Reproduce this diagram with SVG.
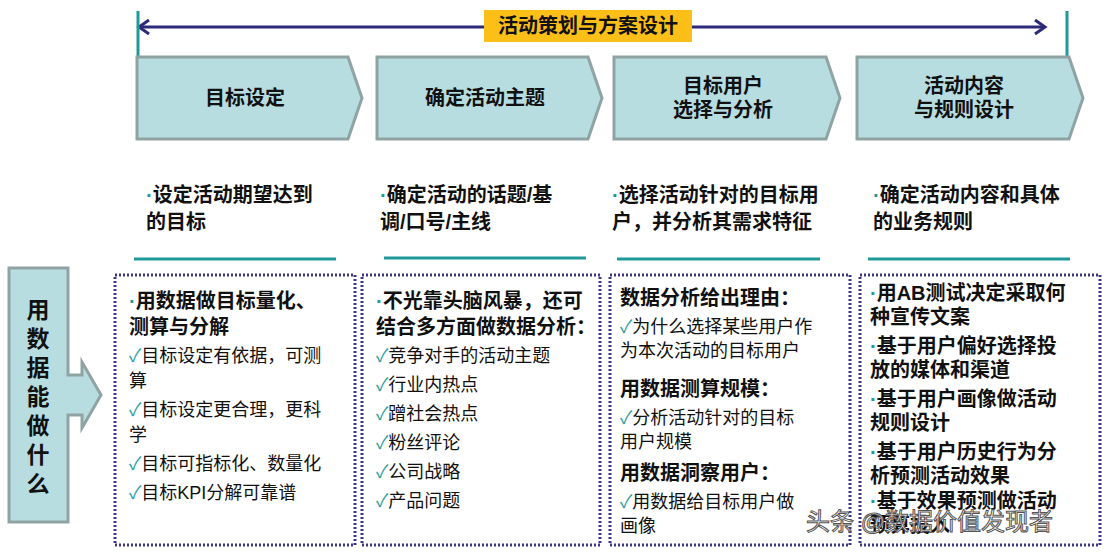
<svg xmlns="http://www.w3.org/2000/svg" width="1113" height="552" viewBox="0 0 1113 552">
<defs>
<style>
text{font-family:"Liberation Sans","Noto Sans CJK SC",sans-serif;fill:#111}
.h{font-size:20px;font-weight:bold;text-anchor:middle}
.b{font-size:20px;font-weight:bold}
.n{font-size:18px}
.v{font-size:23px;font-weight:bold;text-anchor:middle}
.chev{fill:#b7dde0;stroke:#8fa3a3;stroke-width:3}
.box{fill:#fff;stroke:#3d3585;stroke-width:3;stroke-dasharray:2 2}
.ul{stroke:#1f9a98;stroke-width:3}
.dot{fill:#1f9a98}
.ck{fill:#2aa0a0}
</style>
<marker id="ah" markerWidth="20" markerHeight="20" refX="12" refY="8" orient="auto-start-reverse" markerUnits="userSpaceOnUse"><path d="M2,1 L12,8 L2,15" fill="none" stroke="#2e2a7a" stroke-width="3"/></marker>
</defs>
<g id="connectors">
<line x1="139" y1="27" x2="1045" y2="27" stroke="#2e2a7a" stroke-width="3" marker-start="url(#ah)" marker-end="url(#ah)"/>
<line x1="138" y1="11" x2="138" y2="56" stroke="#1f9a98" stroke-width="3"/>
<line x1="1067" y1="11" x2="1067" y2="57" stroke="#1f9a98" stroke-width="3"/>
</g>
<g id="title"><rect x="484" y="10" width="208" height="32" fill="#fcbf18"/><text class="h" x="588" y="33">活动策划与方案设计</text></g>
<g id="step1"><path class="chev" d="M137,57 H348 L362,98 L348,139 H137 Z"/><text class="h" x="245" y="105">目标设定</text></g>
<g id="step2"><path class="chev" d="M377,57 H588 L602,98 L588,139 H377 Z"/><text class="h" x="485" y="105">确定活动主题</text></g>
<g id="step3"><path class="chev" d="M614,57 H826 L840,98 L826,139 H614 Z"/><text class="h" x="723" y="93">目标用户</text><text class="h" x="723" y="117">选择与分析</text></g>
<g id="step4"><path class="chev" d="M857,57 H1069 L1083,98 L1069,139 H857 Z"/><text class="h" x="964" y="93">活动内容</text><text class="h" x="964" y="117">与规则设计</text></g>
<g id="desc">
<text class="b" x="146" y="202"><tspan class="dot">·</tspan>设定活动期望达到</text><text class="b" x="146" y="229">的目标</text>
<line class="ul" x1="134" y1="259" x2="336" y2="259"/>
<text class="b" x="380" y="202"><tspan class="dot">·</tspan>确定活动的话题/基</text><text class="b" x="380" y="229">调/口号/主线</text>
<line class="ul" x1="384" y1="258" x2="586" y2="258"/>
<text class="b" x="612" y="202"><tspan class="dot">·</tspan>选择活动针对的目标用</text><text class="b" x="612" y="229">户，并分析其需求特征</text>
<line class="ul" x1="617" y1="259" x2="820" y2="259"/>
<text class="b" x="873" y="202"><tspan class="dot">·</tspan>确定活动内容和具体</text><text class="b" x="873" y="229">的业务规则</text>
<line class="ul" x1="868" y1="259" x2="1070" y2="259"/>
</g>
<g id="left"><path d="M9,268 H68 V375 H82 V362 L101,395 L82,428 V415 H68 V522 H9 Z" fill="#b7dde0" stroke="#8fa3a3" stroke-width="3"/>
<text class="v" x="38" y="318">用</text>
<text class="v" x="38" y="347">数</text>
<text class="v" x="38" y="376">据</text>
<text class="v" x="38" y="405">能</text>
<text class="v" x="38" y="434">做</text>
<text class="v" x="38" y="463">什</text>
<text class="v" x="38" y="492">么</text>
</g>
<g id="box1"><rect class="box" x="115" y="275" width="240" height="270"/>
<text class="b" x="129" y="308"><tspan class="dot">·</tspan>用数据做目标量化、</text><text class="b" x="129" y="334">测算与分解</text>
<text class="n" x="129" y="362"><tspan class="ck">✓</tspan>目标设定有依据，可测</text><text class="n" x="129" y="387">算</text>
<text class="n" x="129" y="416"><tspan class="ck">✓</tspan>目标设定更合理，更科</text><text class="n" x="129" y="441">学</text>
<text class="n" x="129" y="470"><tspan class="ck">✓</tspan>目标可指标化、数量化</text>
<text class="n" x="129" y="499"><tspan class="ck">✓</tspan>目标KPI分解可靠谱</text>
</g>
<g id="box2"><rect class="box" x="362" y="275" width="238" height="270"/>
<text class="b" x="376" y="308"><tspan class="dot">·</tspan>不光靠头脑风暴，还可</text><text class="b" x="376" y="334">结合多方面做数据分析：</text>
<text class="n" x="376" y="362"><tspan class="ck">✓</tspan>竞争对手的活动主题</text>
<text class="n" x="376" y="391"><tspan class="ck">✓</tspan>行业内热点</text>
<text class="n" x="376" y="420"><tspan class="ck">✓</tspan>蹭社会热点</text>
<text class="n" x="376" y="449"><tspan class="ck">✓</tspan>粉丝评论</text>
<text class="n" x="376" y="478"><tspan class="ck">✓</tspan>公司战略</text>
<text class="n" x="376" y="507"><tspan class="ck">✓</tspan>产品问题</text>
</g>
<g id="box3"><rect class="box" x="610" y="275" width="240" height="270"/>
<text class="b" x="620" y="305">数据分析给出理由：</text>
<text class="n" x="620" y="333"><tspan class="ck">✓</tspan>为什么选择某些用户作</text><text class="n" x="620" y="357">为本次活动的目标用户</text>
<text class="b" x="620" y="396">用数据测算规模：</text>
<text class="n" x="620" y="424"><tspan class="ck">✓</tspan>分析活动针对的目标</text><text class="n" x="620" y="448">用户规模</text>
<text class="b" x="620" y="480">用数据洞察用户：</text>
<text class="n" x="620" y="508"><tspan class="ck">✓</tspan>用数据给目标用户做</text><text class="n" x="620" y="532">画像</text>
</g>
<g id="box4"><rect class="box" x="860" y="275" width="240" height="270"/>
<text class="b" x="870" y="300"><tspan class="dot">·</tspan>用AB测试决定采取何</text><text class="b" x="870" y="324">种宣传文案</text>
<text class="b" x="870" y="353"><tspan class="dot">·</tspan>基于用户偏好选择投</text><text class="b" x="870" y="377">放的媒体和渠道</text>
<text class="b" x="870" y="406"><tspan class="dot">·</tspan>基于用户画像做活动</text><text class="b" x="870" y="430">规则设计</text>
<text class="b" x="870" y="459"><tspan class="dot">·</tspan>基于用户历史行为分</text><text class="b" x="870" y="483">析预测活动效果</text>
<text class="b" x="870" y="508"><tspan class="dot">·</tspan>基于效果预测做活动</text><text class="b" x="870" y="532">预算投入</text>
</g>
<g id="watermark"><text x="806" y="530" style="font-size:24px;fill:#fff;stroke:#555;stroke-width:1">头条 @数据价值发现者</text></g>
</svg>
